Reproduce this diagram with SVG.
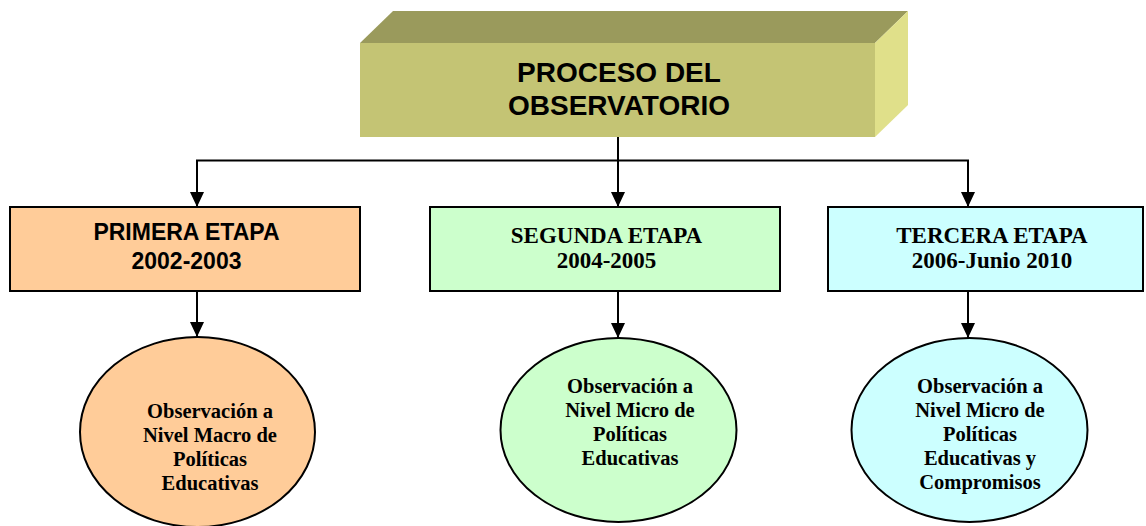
<svg xmlns="http://www.w3.org/2000/svg" width="1146" height="526" viewBox="0 0 1146 526">
<style>
.ln{fill:none;stroke:#000;stroke-width:2}
.bx{stroke:#000;stroke-width:2}
.ar{font-family:"Liberation Sans",Arial,sans-serif;font-weight:bold;text-anchor:middle;fill:#000}
.tm{font-family:"Liberation Serif","Times New Roman",serif;font-weight:bold;text-anchor:middle;fill:#000}
</style>
<defs>
<marker id="ah" viewBox="0 0 15 14" refX="15" refY="7" markerWidth="15" markerHeight="14" markerUnits="userSpaceOnUse" orient="auto-start-reverse">
<path d="M0,0 L15,7 L0,14 Z" fill="#000"/>
</marker>
</defs>
<rect width="1146" height="526" fill="#fff"/>
<g id="connectors">
<path class="ln" d="M618,137 V160.5"/>
<path class="ln" d="M197,207 V160.5 H968 V207" marker-start="url(#ah)" marker-end="url(#ah)"/>
<path class="ln" d="M618,160.5 V207" marker-end="url(#ah)"/>
<path class="ln" d="M197,291 V337" marker-end="url(#ah)"/>
<path class="ln" d="M618,291 V338" marker-end="url(#ah)"/>
<path class="ln" d="M968,291 V338" marker-end="url(#ah)"/>
</g>
<g id="proceso">
<polygon points="360,43 393,11 908,11 875,43" fill="#9A9A5C"/>
<polygon points="875,43 908,11 908,105 875,137" fill="#E0E08A"/>
<rect x="360" y="43" width="515" height="94" fill="#C4C474"/>
<text class="ar" x="619" y="82" font-size="28">PROCESO DEL</text>
<text class="ar" x="619" y="115" font-size="28">OBSERVATORIO</text>
</g>
<g id="etapa1">
<rect class="bx" x="10" y="207" width="350" height="84" fill="#FFCC99"/>
<text class="ar" x="186.5" y="240" font-size="23">PRIMERA ETAPA</text>
<text class="ar" x="186.5" y="269" font-size="23">2002-2003</text>
</g>
<g id="etapa2">
<rect class="bx" x="430" y="207" width="350" height="84" fill="#CCFFCC"/>
<text class="tm" x="606.5" y="243" font-size="23">SEGUNDA ETAPA</text>
<text class="tm" x="606.5" y="268" font-size="23">2004-2005</text>
</g>
<g id="etapa3">
<rect class="bx" x="828" y="207" width="315" height="84" fill="#CCFFFF"/>
<text class="tm" x="992" y="243" font-size="23">TERCERA ETAPA</text>
<text class="tm" x="992" y="268" font-size="23">2006-Junio 2010</text>
</g>
<g id="obs1">
<ellipse class="bx" cx="197.5" cy="432" rx="117.5" ry="95" fill="#FFCC99"/>
<text class="tm" font-size="20.5"><tspan x="210" y="418">Observación a</tspan><tspan x="210" y="442">Nivel Macro de</tspan><tspan x="210" y="466">Políticas</tspan><tspan x="210" y="490">Educativas</tspan></text>
</g>
<g id="obs2">
<ellipse class="bx" cx="618.5" cy="430" rx="118" ry="92" fill="#CCFFCC"/>
<text class="tm" font-size="20.5"><tspan x="630" y="393">Observación a</tspan><tspan x="630" y="417">Nivel Micro de</tspan><tspan x="630" y="441">Políticas</tspan><tspan x="630" y="465">Educativas</tspan></text>
</g>
<g id="obs3">
<ellipse class="bx" cx="969.5" cy="430" rx="118" ry="92" fill="#CCFFFF"/>
<text class="tm" font-size="20.5"><tspan x="980" y="393">Observación a</tspan><tspan x="980" y="417">Nivel Micro de</tspan><tspan x="980" y="441">Políticas</tspan><tspan x="980" y="465">Educativas y</tspan><tspan x="980" y="489">Compromisos</tspan></text>
</g>
</svg>
